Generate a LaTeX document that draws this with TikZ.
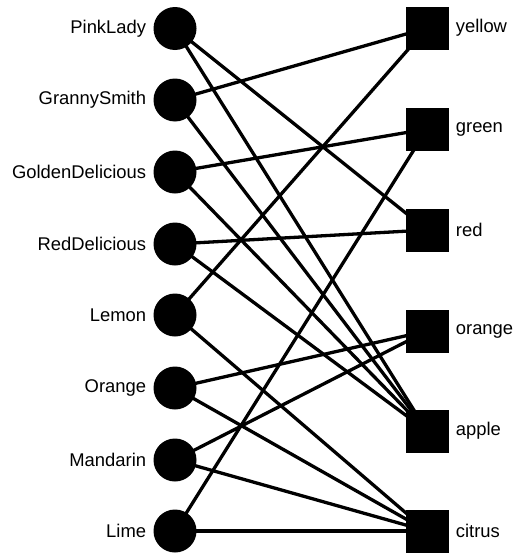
\documentclass[tikz,border=0pt]{standalone}
\usepackage{fontspec}
\setmainfont{Liberation Sans}
\usetikzlibrary{backgrounds}
\tikzset{
  fruit/.style={circle, fill=black, minimum size=43pt, inner sep=0pt},
  attr/.style={rectangle, fill=black, minimum size=43pt, inner sep=0pt},
  lbl/.style={font=\fontsize{18.4}{20}\selectfont, inner sep=0pt},
  link/.style={line width=3.3pt, black}
}
\begin{document}
\begin{tikzpicture}[x=1pt,y=-1pt]
\useasboundingbox (0,0) rectangle (515,554);
% fruits
\node[fruit] (pl) at (175,28.5) {};
\node[fruit] (gs) at (175,100) {};
\node[fruit] (gd) at (175,172) {};
\node[fruit] (rd) at (175,244) {};
\node[fruit] (le) at (175,315) {};
\node[fruit] (or) at (175,388) {};
\node[fruit] (ma) at (175,460) {};
\node[fruit] (li) at (175,531) {};
% attributes
\node[attr] (ye) at (427,28) {};
\node[attr] (gr) at (427,129) {};
\node[attr] (re) at (427,230) {};
\node[attr] (oa) at (427,331) {};
\node[attr] (ap) at (427,431) {};
\node[attr] (ci) at (427,531) {};
% labels
\node[lbl, anchor=east] (lpl) at ([xshift=-7pt]pl.west) {PinkLady};
\node[lbl, anchor=east] (lgs) at ([xshift=-7pt]gs.west) {GrannySmith};
\node[lbl, anchor=east] (lgd) at ([xshift=-7pt]gd.west) {GoldenDelicious};
\node[lbl, anchor=east] (lrd) at ([xshift=-7pt]rd.west) {RedDelicious};
\node[lbl, anchor=east] (lle) at ([xshift=-7pt]le.west) {Lemon};
\node[lbl, anchor=east] (lor) at ([xshift=-7pt]or.west) {Orange};
\node[lbl, anchor=east] (lma) at ([xshift=-7pt]ma.west) {Mandarin};
\node[lbl, anchor=east] (lli) at ([xshift=-7pt]li.west) {Lime};
\node[lbl, anchor=west] (lye) at ([xshift=7pt]ye.east) {yellow};
\node[lbl, anchor=west] (lgr) at ([xshift=7pt]gr.east) {green};
\node[lbl, anchor=west] (lre) at ([xshift=7pt]re.east) {red};
\node[lbl, anchor=west] (loa) at ([xshift=7pt]oa.east) {orange};
\node[lbl, anchor=west] (lap) at ([xshift=7pt]ap.east) {apple};
\node[lbl, anchor=west] (lci) at ([xshift=7pt]ci.east) {citrus};
% links
\begin{scope}[on background layer]
\draw[link] (pl.center) -- (re.center);
\draw[link] (pl.center) -- (ap.center);
\draw[link] (gs.center) -- (ye.center);
\draw[link] (gs.center) -- (ap.center);
\draw[link] (gd.center) -- (gr.center);
\draw[link] (gd.center) -- (ap.center);
\draw[link] (rd.center) -- (re.center);
\draw[link] (rd.center) -- (ap.center);
\draw[link] (le.center) -- (ye.center);
\draw[link] (le.center) -- (ci.center);
\draw[link] (or.center) -- (oa.center);
\draw[link] (or.center) -- (ci.center);
\draw[link] (ma.center) -- (oa.center);
\draw[link] (ma.center) -- (ci.center);
\draw[link] (li.center) -- (gr.center);
\draw[link] (li.center) -- (ci.center);
\end{scope}
\end{tikzpicture}
\end{document}
